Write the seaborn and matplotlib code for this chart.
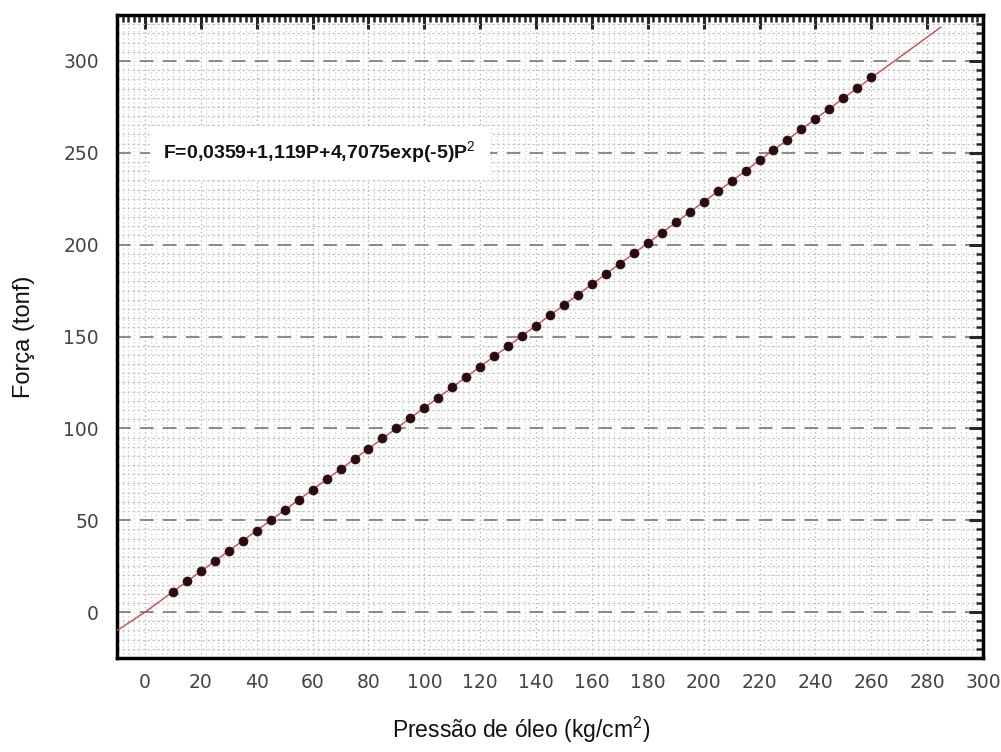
import numpy as np
import pandas as pd
import matplotlib
matplotlib.use("Agg")
import matplotlib.pyplot as plt
from matplotlib.ticker import MultipleLocator
import seaborn as sns

# ---- data ----
pressure = [10, 15, 20, 25, 30, 35, 40, 45, 50, 55, 60, 65, 70, 75, 80, 85, 90, 95,
            100, 105, 110, 115, 120, 125, 130, 135, 140, 145, 150, 155, 160, 165,
            170, 175, 180, 185, 190, 195, 200, 205, 210, 215, 220, 225, 230, 235,
            240, 245, 250, 255, 260]
force = [11.1, 16.7, 22.2, 27.7, 33.3, 38.8, 44.4, 49.9, 55.5, 61.1, 66.6, 72.2,
         77.8, 83.3, 88.9, 94.5, 100.1, 105.6, 111.2, 116.8, 122.4, 128.0, 133.6,
         139.2, 144.7, 150.3, 155.9, 161.5, 167.2, 172.8, 178.4, 184.0, 189.6,
         195.2, 200.8, 206.4, 212.1, 217.7, 223.3, 229.0, 234.6, 240.2, 245.9,
         251.5, 257.1, 262.8, 268.4, 274.1, 279.7, 285.4, 291.0]
fit_x = [-10, 0, 50, 100, 150, 200, 250, 285]
fit_y = [-10.0, 0.0, 55.5, 111.2, 167.2, 223.3, 279.7, 318.5]
x_ticks = list(range(0, 301, 20))
y_ticks = list(range(0, 301, 50))
equation = "F=0,0359+1,119P+4,7075exp(-5)P$^{2}$"
x_label = "Pressão de óleo (kg/cm$^{2}$)"
y_label = "Força (tonf)"

pts = pd.DataFrame({"P": pressure, "F": force})
fit = pd.DataFrame({"P": fit_x, "F": fit_y})

sns.set_style("white")
plt.rcParams["font.family"] = ["Liberation Sans", "DejaVu Sans"]
plt.rcParams["mathtext.fontset"] = "custom"
plt.rcParams["mathtext.rm"] = "Liberation Sans"
plt.rcParams["mathtext.bf"] = "Liberation Sans:bold"

fig = plt.figure(figsize=(10.01, 7.52), dpi=100)
ax = fig.add_axes([0.117, 0.125, 0.865, 0.855])

ax.set_xlim(-10, 300)
ax.set_ylim(-25, 325)

# dense background texture (minor grid) + dashed major horizontal lines
ax.xaxis.set_minor_locator(MultipleLocator(2))
ax.yaxis.set_minor_locator(MultipleLocator(5))
ax.set_xticks(x_ticks)
ax.set_yticks(y_ticks)
ax.grid(which="minor", axis="x", color="#cfcfcf", linestyle=(0, (1, 2)), linewidth=0.9)
ax.grid(which="minor", axis="y", color="#c4c4c4", linestyle=(0, (2, 2)), linewidth=0.9)
ax.grid(which="major", axis="x", color="#b5b5b5", linestyle=(0, (1, 2)), linewidth=1.0)
ax.grid(which="major", axis="y", color="#6a6a6a", linestyle=(0, (9, 6)), linewidth=1.1)
ax.set_axisbelow(True)

sns.lineplot(data=fit, x="P", y="F", ax=ax, color="#d44848", linewidth=1.0, zorder=3)
sns.scatterplot(data=pts, x="P", y="F", ax=ax, color="#2a0c10", edgecolor="#2a0c10",
                s=42, zorder=4, linewidth=0.5)

ax.text(6.5, 250, equation, fontsize=14, fontweight="bold", va="center", ha="left",
        color="#111111",
        bbox=dict(facecolor="white", edgecolor="none", boxstyle="square,pad=0.7"),
        zorder=5)

for sp in ax.spines.values():
    sp.set_linewidth(2.5)
    sp.set_color("black")

ax.tick_params(which="major", direction="in", length=10, width=2.2,
               top=True, right=True, labelsize=13.5, labelcolor="#444444")
ax.tick_params(axis="x", which="major", pad=11)
ax.tick_params(axis="y", which="major", pad=13)
ax.tick_params(which="minor", direction="in", length=5, width=1.8,
               top=True, right=True)
for lab in ax.get_xticklabels() + ax.get_yticklabels():
    lab.set_fontfamily("DejaVu Sans")
    lab.set_fontsize(13.5)

ax.set_xlabel(x_label, fontsize=16.5, color="#111111")
ax.set_ylabel(y_label, fontsize=17, color="#111111")
ax.xaxis.set_label_coords(0.467, -0.088)
ax.yaxis.set_label_coords(-0.095, 0.5)

fig.savefig("out.png", dpi=100, facecolor="white")
